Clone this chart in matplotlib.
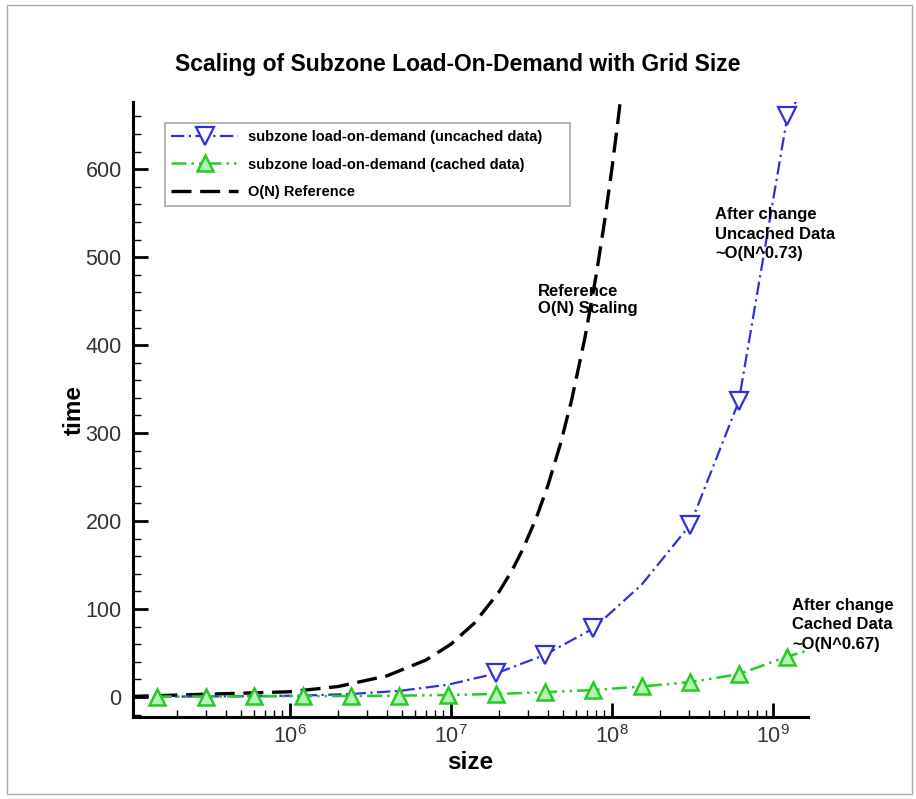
import matplotlib
matplotlib.use('Agg')
import matplotlib.pyplot as plt
from matplotlib.patches import Rectangle
from matplotlib.ticker import LogLocator, MultipleLocator, NullFormatter

plt.rcParams.update({
    'font.family': ['Liberation Sans', 'DejaVu Sans'],
    'font.size': 12,
    'axes.linewidth': 2.2,
})

# ---- data ----
sizes = [1.5e5, 3e5, 6e5, 1.2e6, 2.4e6, 4.8e6, 9.6e6, 1.92e7, 3.84e7,
         7.68e7, 1.536e8, 3.07e8, 6.14e8, 1.23e9, 1.65e9]
uncached = [0.5, 0.7, 1.0, 1.6, 3.5, 7, 14, 27, 48, 78, 128, 196, 336, 660, 700]
cached = [0.5, 0.6, 0.8, 1.0, 1.2, 1.6, 2.3, 3.5, 5.5, 8, 12, 17, 26, 46, 53]
uncached_marked = [7, 8, 9, 11, 12, 13]
cached_marked = list(range(14))

ref_sizes = [1e5, 1e6, 2e6, 4e6, 7e6, 1e7, 1.4e7, 2e7, 2.4e7, 2.8e7, 3.4e7,
             4e7, 4.8e7, 5.6e7, 6.8e7, 8e7, 9e7, 1e8, 1.1e8, 1.2e8]
ref_time = [0.6, 6, 12, 24, 42, 60, 84, 120, 144, 168, 204,
            240, 288, 336, 408, 480, 540, 600, 660, 720]

yticks = [0, 100, 200, 300, 400, 500, 600]

BLUE = '#2f2fdc'
GREEN = '#22cc22'

fig = plt.figure(figsize=(9.16, 7.99), dpi=100)
ax = fig.add_axes([0.145, 0.1026, 0.737, 0.7694])

ax.plot(ref_sizes, ref_time, color='black', lw=2.4, dashes=(6, 2.6),
        label='O(N) Reference', zorder=2)
ax.plot(sizes, uncached, color=BLUE, lw=1.6, dashes=(6, 2, 1, 2),
        marker='v', ms=13, mfc='white', mec=BLUE, mew=1.6,
        markevery=uncached_marked,
        label='subzone load-on-demand (uncached data)', zorder=3)
ax.plot(sizes, cached, color=GREEN, lw=1.8, dashes=(6, 2, 1, 2, 1, 2),
        marker='^', ms=12, mfc='#b8f2b8', mec=GREEN, mew=1.8,
        markevery=cached_marked,
        label='subzone load-on-demand (cached data)', zorder=4)

ax.set_xscale('log')
ax.set_xlim(1.06e5, 1.65e9)
ax.set_ylim(-22.7, 676)

ax.spines['top'].set_visible(False)
ax.spines['right'].set_visible(False)

ax.set_yticks(yticks)
ax.yaxis.set_minor_locator(MultipleLocator(20))
ax.xaxis.set_major_locator(LogLocator(base=10, numticks=20))
ax.xaxis.set_minor_locator(LogLocator(base=10, subs=range(2, 10), numticks=50))
ax.xaxis.set_minor_formatter(NullFormatter())

ax.tick_params(axis='y', which='major', direction='in', length=11, width=2,
               labelsize=15.5, pad=8, labelcolor='#333333')
ax.tick_params(axis='y', which='minor', direction='in', length=6, width=1)
ax.tick_params(axis='x', which='major', direction='in', length=10, width=2,
               labelsize=15.5, pad=6, labelcolor='#333333')
ax.tick_params(axis='x', which='minor', direction='in', length=5, width=1)

ax.set_xlabel('size', fontsize=17.5, fontweight='bold', labelpad=2)
ax.set_ylabel('time', fontsize=17.5, fontweight='bold', labelpad=0)

fig.suptitle('Scaling of Subzone Load-On-Demand with Grid Size',
             fontsize=16.5, fontweight='bold', y=0.934)

handles, labels = ax.get_legend_handles_labels()
order = [1, 2, 0]
leg = ax.legend([handles[i] for i in order], [labels[i] for i in order],
                loc='upper left', bbox_to_anchor=(0.047, 0.966, 0.6, 0),
                mode='expand', prop={'weight': 'bold', 'size': 10.5},
                frameon=True, fancybox=False, edgecolor='#999999',
                handlelength=4.6, handletextpad=0.7, borderpad=0.45,
                labelspacing=0.95, borderaxespad=0)
leg.get_frame().set_linewidth(1.3)

# ---- annotations ----
fig.text(0.587, 0.6245, 'Reference\nO(N) Scaling', fontsize=12,
         fontweight='bold', ha='left', va='center', linespacing=1.2)
fig.text(0.7806, 0.707, 'After change\nUncached Data\n~O(N^0.73)', fontsize=12,
         fontweight='bold', ha='left', va='center', linespacing=1.35)
fig.text(0.8646, 0.2178, 'After change\nCached Data\n~O(N^0.67)', fontsize=12,
         fontweight='bold', ha='left', va='center', linespacing=1.35)

# thin frame around the picture
fig.patches.append(Rectangle((0.008, 0.006), 0.988, 0.988, transform=fig.transFigure,
                             fill=False, edgecolor='#aaaaaa', lw=1.0))

fig.savefig('out.png', dpi=100)
